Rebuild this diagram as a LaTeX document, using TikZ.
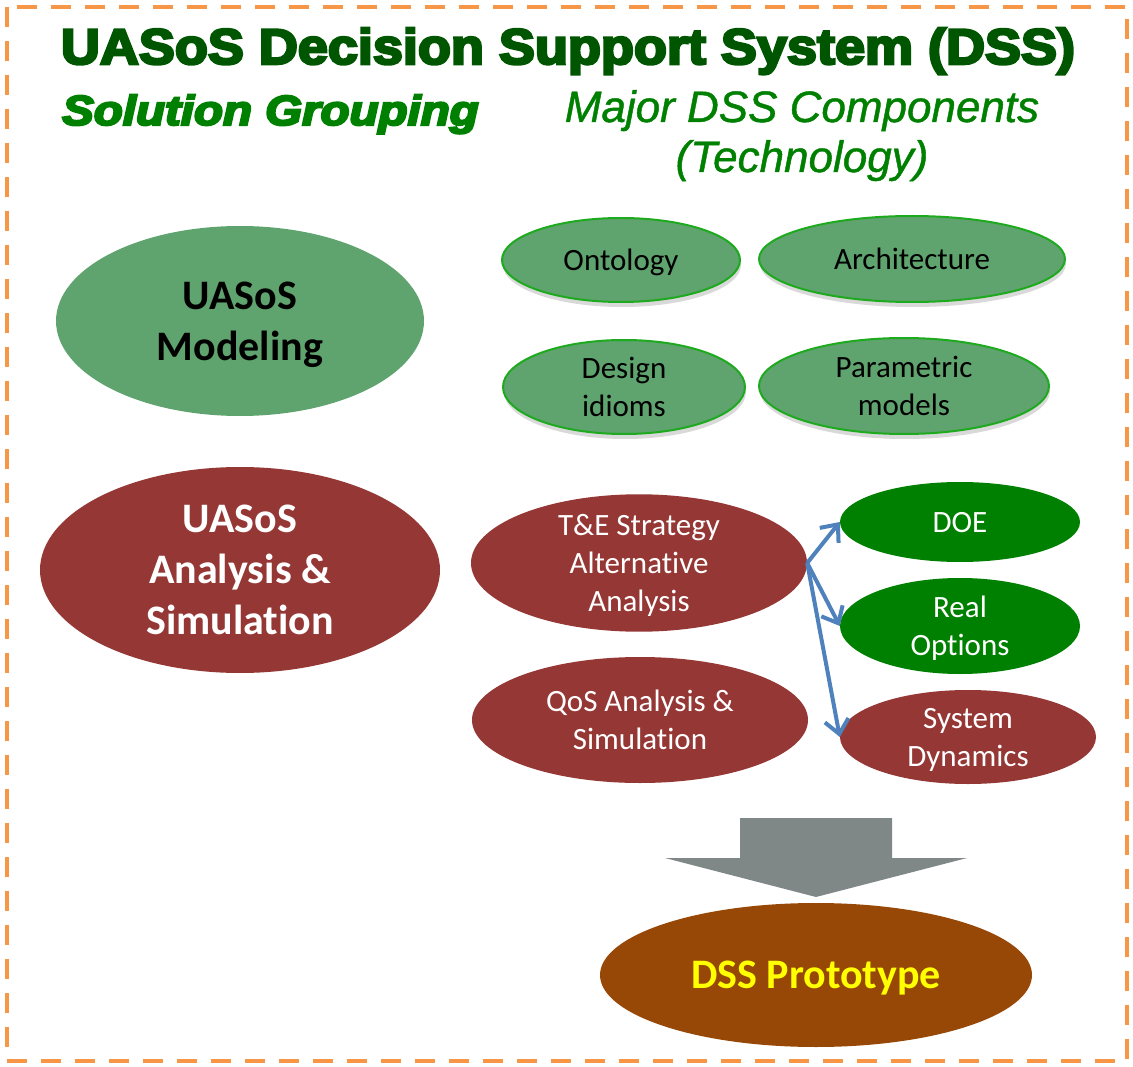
\documentclass[tikz,border=0pt]{standalone}
\usepackage{fontspec}
\usepackage{graphicx}
\setmainfont[Ligatures=NoCommon]{Carlito}
\newfontfamily\arialf[FakeBold=1]{Liberation Sans}
\newfontfamily\arialblk[FakeBold=5]{Liberation Sans Bold}
\newfontfamily\arialblkit[FakeBold=5]{Liberation Sans Bold Italic}
\usetikzlibrary{shapes.geometric,arrows.meta,shadows}
\definecolor{titlegreen}{RGB}{0,85,0}
\definecolor{subgreen}{RGB}{0,128,0}
\definecolor{modgreen}{RGB}{95,163,110}
\definecolor{rimgreen}{RGB}{30,170,30}
\definecolor{darkred}{RGB}{149,55,53}
\definecolor{doegreen}{RGB}{0,128,0}
\definecolor{arrowgray}{RGB}{127,135,135}
\definecolor{brown}{RGB}{152,72,6}
\definecolor{linkblue}{RGB}{79,129,189}
\definecolor{borderorange}{RGB}{247,150,70}
\tikzset{
  oval/.style={ellipse, inner sep=0pt, align=center, text depth=0pt},
  bigtext/.style={font=\fontsize{42}{51}\selectfont\bfseries},
  midtext/.style={font=\fontsize{31}{38}\selectfont},
  techoval/.style={oval, fill=modgreen, draw=rimgreen, line width=2pt, text=black, midtext,
    drop shadow={shadow xshift=1pt, shadow yshift=-5pt, fill=black!25, opacity=0.6}},
  redoval/.style={oval, fill=darkred, text=white, midtext},
  greenoval/.style={oval, fill=doegreen, text=white, midtext},
  link/.style={draw=linkblue, line width=4pt, -{Straight Barb[length=14pt,width=24pt,line width=4pt]}}
}
\begin{document}
\begin{tikzpicture}[x=1pt,y=-1pt]
\useasboundingbox (0,0) rectangle (1133,1067);
% border
\draw[borderorange, line width=4pt, dash pattern=on 20pt off 14pt] (7,7) rectangle (1127,1061);
% headings
\node[anchor=base, text=titlegreen, inner sep=0pt] (title) at (568,64)
  {\scalebox{1.08}[1]{\arialblk\fontsize{50}{56}\selectfont UASoS Decision Support System (DSS)}};
\node[anchor=base west, text=subgreen, inner sep=0pt] (group) at (62,125)
  {\scalebox{1.13}[1]{\arialblkit\fontsize{42}{48}\selectfont Solution Grouping}};
\node[anchor=base, text=subgreen, inner sep=0pt, align=center,
  font=\arialf\itshape\fontsize{44}{50}\selectfont] (major) at (802,172)
  {Major DSS Components\\(Technology)};
% left ellipses
\node[oval, fill=modgreen, minimum width=368pt, minimum height=190pt, bigtext, text=black] (model) at (240,321)
  {UASoS\\Modeling};
\node[oval, fill=darkred, minimum width=400pt, minimum height=206pt, bigtext, text=white] (anal) at (240,570)
  {UASoS\\Analysis \&\\Simulation};
% technology ellipses
\node[techoval, minimum width=238pt, minimum height=84pt] (onto) at (621,260) {Ontology};
\node[techoval, minimum width=306pt, minimum height=86pt] (arch) at (912,259) {Architecture};
\node[techoval, minimum width=242pt, minimum height=94pt] (design) at (624,387) {Design\\idioms};
\node[techoval, minimum width=290pt, minimum height=96pt] (param) at (904,386) {Parametric\\models};
% analysis ellipses
\node[redoval, minimum width=336pt, minimum height=128pt] (te) at (639,563)
  {T\&E Strategy\\Alternative\\Analysis};
\node[redoval, minimum width=336pt, minimum height=126pt] (qos) at (640,720)
  {QoS Analysis \&\\Simulation};
\node[greenoval, minimum width=240pt, minimum height=80pt] (doe) at (960,522) {DOE};
\node[greenoval, minimum width=240pt, minimum height=96pt] (real) at (960,626) {Real\\Options};
\node[redoval, minimum width=256pt, minimum height=94pt] (sysdyn) at (968,737) {System\\Dynamics};
% links
\draw[link] (te.east) -- (doe.west);
\draw[link] (te.east) -- (real.west);
\draw[link] (te.east) -- (sysdyn.west);
% gray block arrow
\fill[arrowgray] (740,818) -- (892,818) -- (892,858) -- (967,858) -- (816,897) -- (665,858) -- (740,858) -- cycle;
% prototype
\node[oval, fill=brown, minimum width=432pt, minimum height=144pt, text={rgb,255:red,255;green,255;blue,0},
  font=\fontsize{42}{51}\selectfont\bfseries] (proto) at (816,975) {DSS Prototype};
\end{tikzpicture}
\end{document}
